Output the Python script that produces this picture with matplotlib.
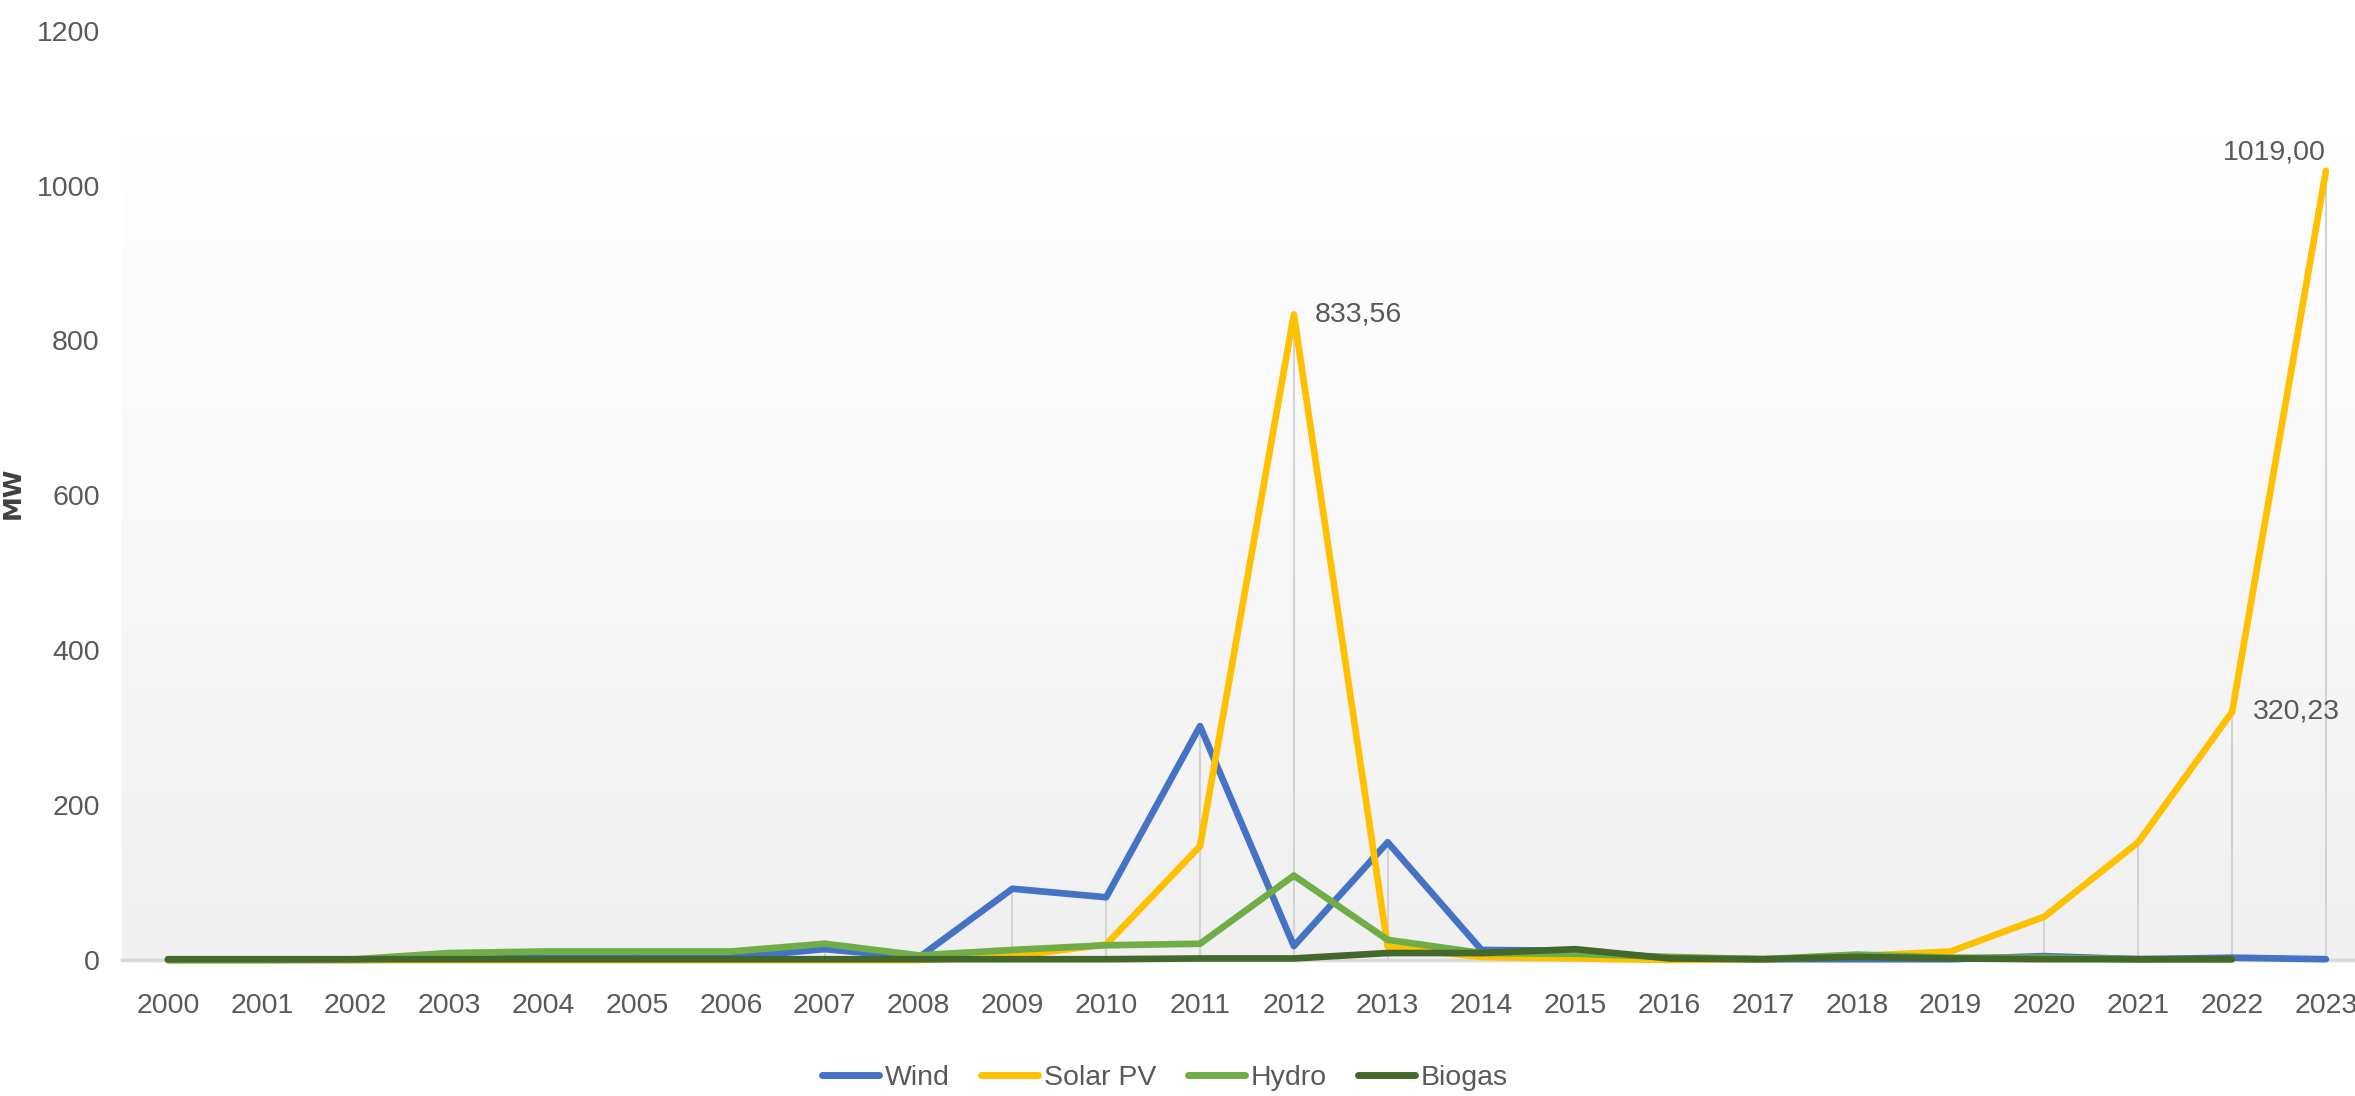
import matplotlib
matplotlib.use("Agg")
import matplotlib.pyplot as plt
import numpy as np
from matplotlib.colors import LinearSegmentedColormap

# data (MW per year)
years = list(range(2000, 2024))
wind = [0, 0, 0, 1, 3, 3, 3, 14, 3, 92, 81, 302, 18, 152, 13, 12, 2, 1, 1, 1, 5, 1, 3, 1]
solar = [0, 0, 0, 0, 0, 0, 0, 0, 0, 5, 20, 147, 833.56, 17, 4, 2, 0, 1, 5, 11, 56, 152, 320.23, 1019.00]
hydro = [0, 0, 1, 9, 11, 11, 11, 21, 6, 13, 19, 21, 109, 26, 9, 8, 4, 1, 7, 3, 3, 1, 1, np.nan]
biogas = [1, 1, 1, 1, 1, 1, 1, 1, 1, 1, 1, 2, 2, 9, 9, 14, 2, 1, 4, 2, 1, 1, 1, np.nan]
labels = ["Wind", "Solar PV", "Hydro", "Biogas"]
colors = ["#4472C4", "#FFC000", "#70AD47", "#43682B"]
annot = {2012: "833,56", 2022: "320,23", 2023: "1019,00"}

font = ["Liberation Sans Narrow", "Liberation Sans", "DejaVu Sans"]
txt = "#595959"
fs = 20.5

fig = plt.figure(figsize=(23.55, 10.96), dpi=100)
ax = fig.add_axes([122 / 2355, 1 - 960 / 1096, 1 - 122 / 2355, (960 - 30.6) / 1096])

x0, x1 = 1999.51, 2023.31
ax.set_xlim(x0, x1)
ax.set_ylim(0, 1200)

# plot area gradient (white at top -> light grey at axis)
cmap = LinearSegmentedColormap.from_list("g", ["#f0f0f0", "#ffffff"])
grad = np.linspace(0, 1, 256).reshape(-1, 1)
ax.imshow(grad, extent=[x0, x1, 0, 1068], origin="lower", aspect="auto",
          cmap=cmap, zorder=0)

# drop lines
all_series = np.array([wind, solar, hydro, biogas], dtype=float)
ax.vlines(years, 0, np.nanmax(all_series, axis=0), color="#d3d3d3", lw=1.5, zorder=1)

for s, lab, c in zip([wind, solar, hydro, biogas], labels, colors):
    ax.plot(years, s, color=c, lw=4.8, label=lab, zorder=3, clip_on=False,
            solid_joinstyle="round", solid_capstyle="round")

for yr, t in annot.items():
    v = solar[years.index(yr)]
    if yr == 2023:
        ax.annotate(t, (yr, v), xytext=(0, 13), textcoords="offset points",
                    ha="right", va="center", fontsize=fs, color=txt, family=font)
    else:
        ax.annotate(t, (yr, v), xytext=(15, 0), textcoords="offset points",
                    ha="left", va="center", fontsize=fs, color=txt, family=font)

for side in ["top", "right", "left"]:
    ax.spines[side].set_visible(False)
ax.spines["bottom"].set_color("#d9d9d9")
ax.spines["bottom"].set_linewidth(2.5)
ax.spines["bottom"].set_zorder(2)

ax.set_xticks(years)
ax.set_xticklabels([str(y) for y in years])
ax.set_yticks(range(0, 1201, 200))
ax.tick_params(axis="x", length=0, pad=24, labelsize=fs, labelcolor=txt)
ax.tick_params(axis="y", length=0, pad=16, labelsize=fs, labelcolor=txt)
for lbl in ax.get_xticklabels() + ax.get_yticklabels():
    lbl.set_family(font)

ax.set_ylabel("MW", fontsize=18, color="#404040", fontweight="bold")
ax.yaxis.set_label_coords(-0.0434, 0.5025)

leg = fig.legend(loc="center", bbox_to_anchor=(1165 / 2355, 1 - 1078 / 1096), ncol=4,
                 frameon=False, handlelength=2.0, handletextpad=0.2,
                 columnspacing=1.1, prop={"family": font, "size": fs})
for t in leg.get_texts():
    t.set_color(txt)
for h in leg.get_lines():
    h.set_linewidth(5)
    h.set_solid_capstyle("round")

fig.savefig("out.png", dpi=100)
